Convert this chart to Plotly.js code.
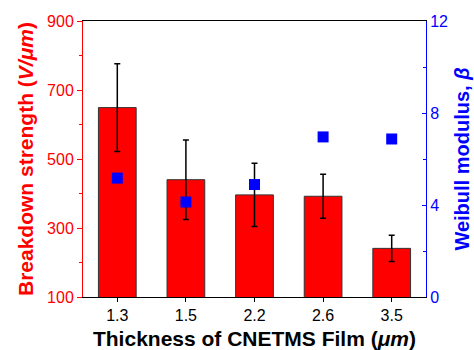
<!DOCTYPE html>
<html>
<head>
<meta charset="utf-8">
<script src="https://cdn.plot.ly/plotly-3.0.1.min.js"></script>
<style>html,body{margin:0;padding:0;background:#fff;}#chart{width:474px;height:350px;}</style>
</head>
<body>
<div id="chart"></div>
<script>
const thickness = ['1.3', '1.5', '2.2', '2.6', '3.5'];
const breakdown = [649, 440, 396, 392, 241];
const breakdownErr = [127, 115, 92, 64, 38];
const weibull = [5.17, 4.13, 4.89, 6.96, 6.87];

const font = 'Liberation Sans, Arial, sans-serif';

const bars = {
  type: 'bar', x: thickness, y: breakdown, yaxis: 'y', width: 0.55,
  marker: {color: '#ff0000', line: {color: '#333333', width: 1}},
  error_y: {type: 'data', array: breakdownErr, visible: true, color: '#000000', thickness: 1.5, width: 3},
  showlegend: false, hoverinfo: 'skip'
};
const pts = {
  type: 'scatter', mode: 'markers', x: thickness, y: weibull, yaxis: 'y2',
  marker: {symbol: 'square', size: 11, color: '#0000ff'},
  showlegend: false, hoverinfo: 'skip'
};

const layout = {
  width: 474, height: 350,
  margin: {l: 83, r: 48, t: 21, b: 53},
  paper_bgcolor: '#ffffff', plot_bgcolor: '#ffffff',
  font: {family: font, size: 16, color: '#000'},
  xaxis: {
    type: 'category', showline: true, linecolor: '#000', linewidth: 1, mirror: true,
    ticks: 'outside', ticklen: 4, tickcolor: '#000', showgrid: false, zeroline: false,
    tickfont: {family: font, size: 16, color: '#000'},
    title: {text: '<b>Thickness of CNETMS Film (<i>μm</i>)</b>', font: {family: font, size: 21, color: '#000'}, standoff: 8}
  },
  yaxis: {
    range: [100, 900], tick0: 100, dtick: 200, showline: true, linecolor: '#ff0000', linewidth: 1,
    ticks: 'outside', ticklen: 5, tickcolor: '#ff0000', showgrid: false, zeroline: false,
    minor: {dtick: 100, tick0: 100, ticks: 'outside', ticklen: 3, tickcolor: '#ff0000'},
    tickfont: {family: font, size: 16, color: '#ff0000'},
    title: {text: '<b>Breakdown strength (<i>V/μm</i>)</b>', font: {family: font, size: 21, color: '#ff0000'}, standoff: 7}
  },
  yaxis2: {
    overlaying: 'y', side: 'right', range: [0, 12], tick0: 0, dtick: 4,
    showline: true, linecolor: '#0000ff', linewidth: 1,
    ticks: 'inside', ticklen: 4, tickcolor: '#0000ff', showgrid: false, zeroline: false,
    minor: {dtick: 2, ticks: 'inside', ticklen: 3, tickcolor: '#0000ff'},
    tickfont: {family: font, size: 16, color: '#0000ff'},
    title: {text: '<b>Weibull modulus, <i>β</i></b>', font: {family: font, size: 20, color: '#0000ff'}, standoff: 7}
  },
  bargap: 0.45
};

Plotly.newPlot('chart', [bars, pts], layout, {displayModeBar: false, staticPlot: true});
</script>
</body>
</html>
